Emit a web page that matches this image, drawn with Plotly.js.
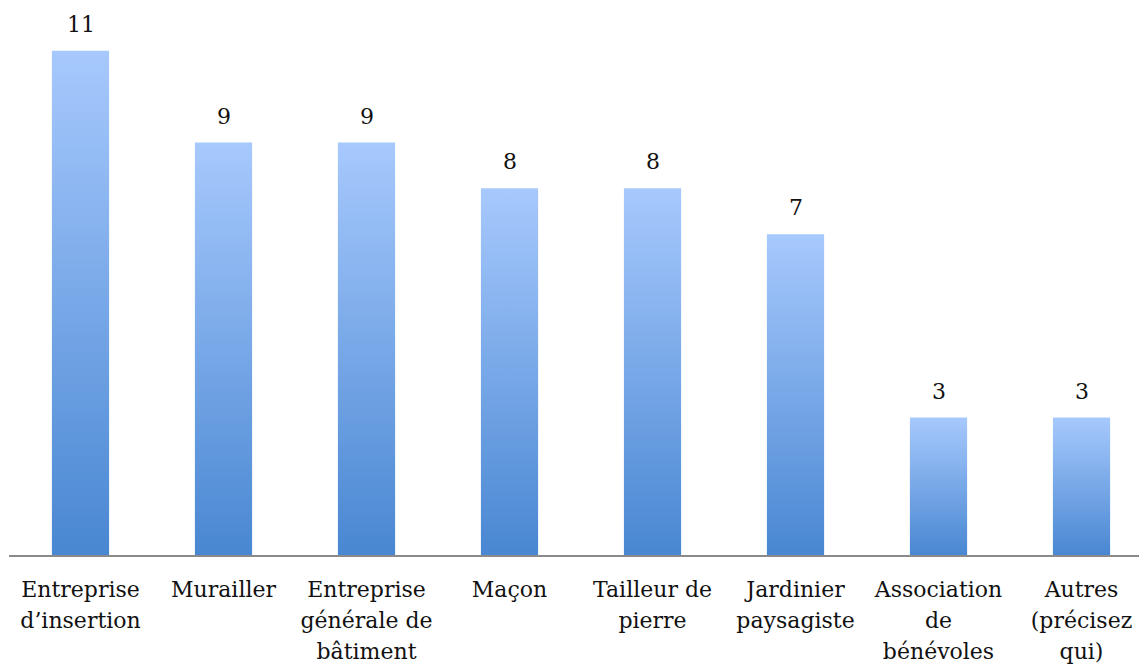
<!DOCTYPE html>
<html>
<head>
<meta charset="utf-8">
<script src="https://cdn.plot.ly/plotly-3.0.1.min.js"></script>
<style>html,body{margin:0;padding:0;background:#fff;}#chart{width:1139px;height:665px;}</style>
</head>
<body>
<div id="chart"></div>
<script>
const categories = [
  "Entreprise<br>d’insertion",
  "Murailler",
  "Entreprise<br>générale de<br>bâtiment",
  "Maçon",
  "Tailleur de<br>pierre",
  "Jardinier<br>paysagiste",
  "Association<br>de<br>bénévoles",
  "Autres<br>(précisez<br>qui)"
];
const values = [11, 9, 9, 8, 8, 7, 3, 3];

const FONT = "DejaVu Serif, serif";
const idx = categories.map((c, i) => i);

const trace = {
  type: "bar",
  x: idx,
  y: values,
  marker: { color: "#78a8e8", line: { width: 0 } },
  hoverinfo: "none"
};

const annotations = values.map((v, i) => ({
  x: i, y: v, text: String(v), showarrow: false,
  xanchor: "center", yanchor: "bottom", yshift: 12,
  font: { family: FONT, size: 22, color: "#111" }
}));

const layout = {
  width: 1139, height: 665,
  margin: { l: 9, r: 0, t: 5, b: 110 },
  paper_bgcolor: "#fff", plot_bgcolor: "#fff",
  bargap: 0.6,
  showlegend: false,
  xaxis: {
    range: [-0.5, 7.402],
    tickmode: "array", tickvals: idx, ticktext: categories,
    showgrid: false, zeroline: false,
    showline: true, linecolor: "#8a8a8a", linewidth: 2,
    ticks: "", ticklabelstandoff: 14,
    tickfont: { family: FONT, size: 22, color: "#111" }
  },
  yaxis: {
    range: [0, 12], visible: false, showgrid: false, zeroline: false
  },
  annotations: annotations
};

function decorate(gd) {
  const svg = gd.querySelector(".main-svg");
  const ns = "http://www.w3.org/2000/svg";
  let defs = svg.querySelector("defs");
  if (!defs) { defs = document.createElementNS(ns, "defs"); svg.insertBefore(defs, svg.firstChild); }
  if (!svg.querySelector("#barGrad")) {
    const g = document.createElementNS(ns, "linearGradient");
    g.setAttribute("id", "barGrad");
    g.setAttribute("x1", "0"); g.setAttribute("y1", "0");
    g.setAttribute("x2", "0"); g.setAttribute("y2", "1");
    [["0%", "#a7c9fd"], ["100%", "#4987d2"]].forEach(([o, c]) => {
      const s = document.createElementNS(ns, "stop");
      s.setAttribute("offset", o); s.setAttribute("stop-color", c);
      g.appendChild(s);
    });
    defs.appendChild(g);
  }
  gd.querySelectorAll(".barlayer path").forEach(p => {
    p.style.setProperty("fill", "url(#barGrad)", "important");
  });
  gd.querySelectorAll(".xtick text tspan.line").forEach(t => {
    const dy = parseFloat(t.getAttribute("dy"));
    if (!isNaN(dy) && dy > 0) t.setAttribute("dy", (dy / 1.3 * 1.41).toFixed(3) + "em");
  });
}

Plotly.newPlot("chart", [trace], layout, { staticPlot: true, displayModeBar: false }).then(decorate);
</script>
</body>
</html>
